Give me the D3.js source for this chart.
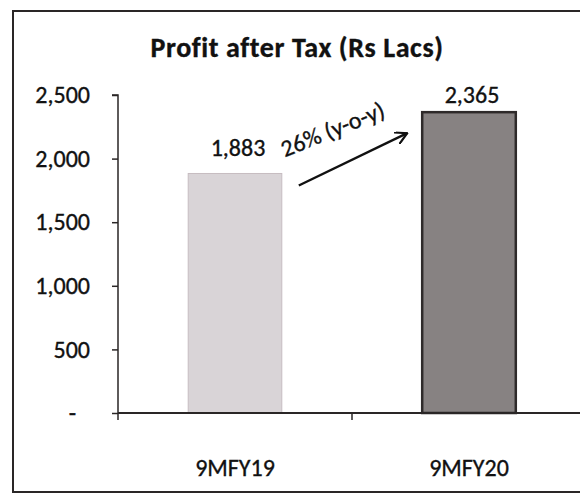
<!DOCTYPE html>
<html>
<head>
<meta charset="utf-8">
<script src="https://d3js.org/d3.v7.min.js"></script>
<style>
    body { margin: 0; background: #fff; }
    text { font-family: Carlito, Calibri, Lato, sans-serif; fill: #111; stroke: #111; stroke-width: 0.35px; }
</style>
</head>
<body>
<svg id="drawing_region"></svg>
<script>
const categories = ["9MFY19", "9MFY20"];
const values = [1883, 2365];
const yTicks = [0, 500, 1000, 1500, 2000, 2500];
const growthLabel = "26% (y-o-y)";
const title = "Profit after Tax (Rs Lacs)";

const config = {
    parent: '#drawing_region',
    width: 580,
    height: 495,
    margin: {top:95, right:-6, bottom:82, left:118}
};

const svg = d3.select(config.parent)
    .attr('width', config.width)
    .attr('height', config.height);

const inner_width = config.width - config.margin.left - config.margin.right;
const inner_height = config.height - config.margin.top - config.margin.bottom;

// frame of the scanned chart
svg.append('rect')
    .attr('x', 13).attr('y', 11)
    .attr('width', 620).attr('height', 481)
    .attr('fill', 'none')
    .attr('stroke', '#2a2626')
    .attr('stroke-width', 2);

svg.append('text')
    .attr('x', 297).attr('y', 57)
    .attr('text-anchor', 'middle')
    .attr('font-size', 28)
    .attr('font-weight', 'bold')
    .attr('letter-spacing', 0.6)
    .text(title);

const chart = svg.append('g')
    .attr('transform', `translate(${config.margin.left}, ${config.margin.top})`);

const xscale = d3.scaleBand()
    .domain(categories)
    .range([0, inner_width])
    .paddingInner(0.6)
    .paddingOuter(0.3);

const yscale = d3.scaleLinear()
    .domain([0, 2500])
    .range([inner_height, 0]);

// bars
const fills = ['#d9d4d7', '#878282'];
const strokes = ['#c7bcc1', '#2e2a2a'];
chart.selectAll('rect.bar')
    .data(values)
    .enter()
    .append('rect')
    .attr('class', 'bar')
    .attr('x', (d, i) => xscale(categories[i]))
    .attr('y', d => yscale(d))
    .attr('width', xscale.bandwidth())
    .attr('height', d => inner_height - yscale(d))
    .attr('fill', (d, i) => fills[i])
    .attr('stroke', (d, i) => strokes[i])
    .attr('stroke-width', (d, i) => i == 0 ? 1 : 2.5);

// value labels
chart.selectAll('text.value')
    .data(values)
    .enter()
    .append('text')
    .attr('class', 'value')
    .attr('x', (d, i) => xscale(categories[i]) + xscale.bandwidth() / 2 + 3)
    .attr('y', (d, i) => yscale(d) - (i == 0 ? 17 : 9))
    .attr('text-anchor', 'middle')
    .attr('font-size', 24)
    .text(d => d3.format(',')(d));

// y axis
const yaxis = d3.axisLeft(yscale)
    .tickValues(yTicks)
    .tickSize(6)
    .tickPadding(22)
    .tickFormat(d => d == 0 ? '-' : d3.format(',')(d));

const yaxis_group = chart.append('g').call(yaxis);
yaxis_group.select('.domain').attr('d', `M-6,0H0V${inner_height}`);
yaxis_group.selectAll('text')
    .attr('font-size', 24)
    .attr('font-family', 'Carlito, Calibri, Lato, sans-serif')
    .attr('fill', '#111')
    .attr('dx', d => d == 0 ? -14 : 0);
yaxis_group.selectAll('line, path').attr('stroke', '#2a2626').attr('stroke-width', 1.5);

// x axis, ticks between categories
const xaxis_group = chart.append('g')
    .attr('transform', `translate(0, ${inner_height})`);
xaxis_group.append('line')
    .attr('x1', 0).attr('x2', inner_width)
    .attr('stroke', '#2a2626').attr('stroke-width', 2);
const boundaries = [0, xscale.step(), 2 * xscale.step()];
xaxis_group.selectAll('line.tick')
    .data(boundaries)
    .enter()
    .append('line')
    .attr('class', 'tick')
    .attr('x1', d => d).attr('x2', d => d)
    .attr('y1', 0).attr('y2', 7)
    .attr('stroke', '#2a2626').attr('stroke-width', 1.5);
xaxis_group.selectAll('text')
    .data(categories)
    .enter()
    .append('text')
    .attr('x', d => xscale(d) + xscale.bandwidth() / 2)
    .attr('y', 63)
    .attr('text-anchor', 'middle')
    .attr('font-size', 24)
    .text(d => d);

// growth arrow between the bars
svg.append('defs').append('marker')
    .attr('id', 'arrow')
    .attr('viewBox', '0 0 12 12')
    .attr('refX', 11).attr('refY', 6)
    .attr('markerWidth', 13).attr('markerHeight', 13)
    .attr('markerUnits', 'userSpaceOnUse')
    .attr('orient', 'auto')
    .append('path')
    .attr('d', 'M0,0L11,6L0,12')
    .attr('fill', 'none')
    .attr('stroke', '#111')
    .attr('stroke-width', 2);

const x0 = xscale(categories[0]) + xscale.bandwidth() + 17;
const y0 = yscale(values[0]) + 12;
const x1 = xscale(categories[1]) - 15;
const y1 = yscale(values[1]) + 21;
chart.append('line')
    .attr('x1', x0).attr('y1', y0)
    .attr('x2', x1).attr('y2', y1)
    .attr('stroke', '#111')
    .attr('stroke-width', 2.4)
    .attr('marker-end', 'url(#arrow)');

chart.append('text')
    .attr('transform', `translate(${x0 - 14}, ${y0 - 28}) rotate(-22)`)
    .attr('font-size', 24)
    .text(growthLabel);
</script>
</body>
</html>
